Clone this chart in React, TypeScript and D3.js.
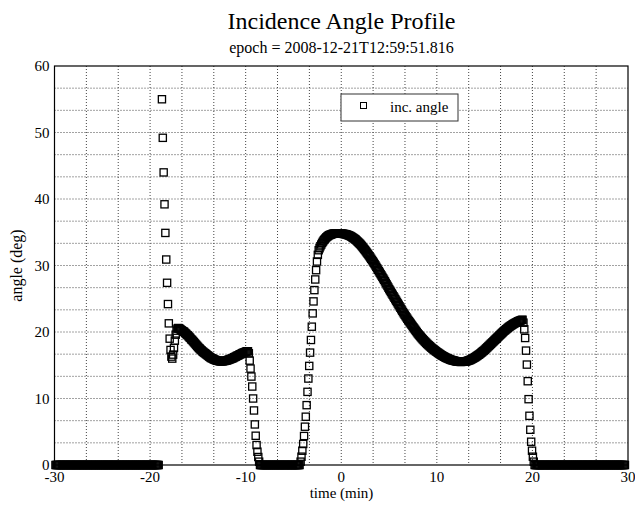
import React from "react";
import * as d3 from "d3";

const W = 635;
const H = 508;

const titleText = "Incidence Angle Profile";
const subtitleText = "epoch = 2008-12-21T12:59:51.816";
const xLabel = "time (min)";
const yLabel = "angle (deg)";
const legendLabel = "inc. angle";

const xTicks = [-30, -20, -10, 0, 10, 20, 30];
const yTicks = [0, 10, 20, 30, 40, 50, 60];

// sampling step of the profile (minutes)
const DT = 0.09;

// spans where the angle is 0 (no visibility)
const zeroSpans: [number, number][] = [
  [-29.9, -19.12],
  [-8.5, -4.34],
  [20.23, 29.7],
];

// first pass: steep entry, small dip, first hump
const entryAStart = -18.76;
const entryA = [
  55.0, 49.2, 44.0, 39.2, 34.9, 30.9, 27.4, 24.2, 21.3, 19.0,
  17.3, 16.3, 16.0, 16.6, 17.6, 18.7, 19.6, 20.2, 20.5, 20.6,
];

const bandAStart = -16.96;
const bandA = [
  20.55, 20.45, 20.35, 20.25, 20.15, 20.1, 20.0, 19.85, 19.75, 19.6,
  19.5, 19.35, 19.2, 19.1, 18.9, 18.8, 18.65, 18.5, 18.35, 18.2,
  18.05, 17.9, 17.75, 17.6, 17.5, 17.35, 17.25, 17.1, 17.0, 16.9,
  16.8, 16.7, 16.6, 16.5, 16.4, 16.3, 16.2, 16.1, 16.05, 16.0,
  15.9, 15.85, 15.8, 15.75, 15.7, 15.7, 15.65, 15.6, 15.6, 15.6,
  15.6, 15.6, 15.65, 15.65, 15.7, 15.7, 15.75, 15.8, 15.85, 15.9,
  15.95, 16.0, 16.05, 16.1, 16.2, 16.25, 16.3, 16.4, 16.45, 16.5,
  16.6, 16.65, 16.7, 16.8, 16.85, 16.9, 16.95, 17.0, 17.05, 17.1,
  17.1,
];

const exitAStart = -9.67;
const exitA = [16.8, 15.7, 14.5, 13.3, 11.8, 10.0, 8.2, 6.1, 4.4, 3.0, 2.0, 1.2, 0.5];

// second pass: rise to the main peak
const riseBStart = -4.25;
const riseB = [
  0.5, 1.25, 2.15, 3.16, 4.36, 5.76, 7.26, 9.0, 11.0, 13.0,
  14.9, 16.9, 18.8, 20.8, 22.8, 24.6, 26.3, 27.9, 29.3, 30.6,
  31.6, 32.3, 32.6, 32.9, 33.15, 33.4, 33.6, 33.8, 33.95, 34.1,
  34.25, 34.35, 34.45, 34.55, 34.6, 34.65, 34.7, 34.75, 34.78, 34.8,
  34.8, 34.82, 34.83, 34.83, 34.83, 34.82, 34.82, 34.8,
];

const mainBStart = 0.07;
const mainB = [
  34.79, 34.77, 34.75, 34.73, 34.71, 34.69, 34.63, 34.58, 34.53, 34.47,
  34.42, 34.34, 34.25, 34.16, 34.07, 33.98, 33.89, 33.76, 33.63, 33.51,
  33.38, 33.26, 33.11, 32.95, 32.79, 32.62, 32.46, 32.3, 32.12, 31.94,
  31.76, 31.58, 31.4, 31.21, 31.01, 30.82, 30.62, 30.42, 30.22, 30.01,
  29.79, 29.58, 29.36, 29.14, 28.93, 28.71, 28.5, 28.28, 28.06, 27.85,
  27.62, 27.38, 27.15, 26.92, 26.68, 26.45, 26.24, 26.02, 25.8, 25.59,
  25.37, 25.16, 24.94, 24.72, 24.51, 24.29, 24.08, 23.86, 23.64, 23.43,
  23.21, 22.99, 22.79, 22.59, 22.39, 22.2, 22.0, 21.8, 21.62, 21.44,
  21.26, 21.08, 20.9, 20.72, 20.54, 20.36, 20.18, 20.0, 19.82, 19.66,
  19.51, 19.36, 19.2, 19.05, 18.9, 18.77, 18.63, 18.5, 18.37, 18.23,
  18.11, 17.99, 17.88, 17.76, 17.64, 17.53, 17.43, 17.33, 17.23, 17.13,
  17.03, 16.94, 16.85, 16.76, 16.67, 16.58, 16.49, 16.42, 16.35, 16.28,
  16.2, 16.13, 16.07, 16.02, 15.96, 15.91, 15.85, 15.8, 15.76, 15.73,
  15.69, 15.66, 15.62, 15.59, 15.57, 15.56, 15.54, 15.52, 15.5, 15.51,
  15.52, 15.53, 15.53, 15.54, 15.56, 15.61, 15.65, 15.7, 15.74, 15.79,
  15.86, 15.93, 16.0, 16.07, 16.14, 16.22, 16.31, 16.4, 16.49, 16.58,
  16.67, 16.77, 16.88, 16.99, 17.1, 17.2, 17.31, 17.44, 17.57, 17.69,
  17.82, 17.94, 18.07, 18.2, 18.32, 18.45, 18.57, 18.7, 18.83, 18.95,
  19.08, 19.2, 19.33, 19.46, 19.58, 19.71, 19.83, 19.96, 20.09, 20.2,
  20.3, 20.41, 20.52, 20.63, 20.74, 20.83, 20.92, 21.0, 21.09, 21.18,
  21.26, 21.33, 21.4, 21.47, 21.54, 21.61, 21.66, 21.71, 21.76, 21.81,
  21.84,
];

const exitBStart = 19.06;
const exitB = [21.4, 20.4, 19.1, 17.2, 15.1, 12.6, 9.9, 7.4, 5.3, 3.5, 2.15, 1.25, 0.5];

const segments: { start: number; values: number[] }[] = [
  { start: entryAStart, values: entryA },
  { start: bandAStart, values: bandA },
  { start: exitAStart, values: exitA },
  { start: riseBStart, values: riseB },
  { start: mainBStart, values: mainB },
  { start: exitBStart, values: exitB },
];

function buildPoints(): [number, number][] {
  const pts: [number, number][] = [];
  zeroSpans.forEach(([a, b]) => {
    const n = Math.round((b - a) / DT);
    for (let i = 0; i <= n; i++) pts.push([a + i * DT, 0]);
  });
  segments.forEach((s) => {
    s.values.forEach((v, i) => pts.push([s.start + i * DT, v]));
  });
  return pts;
}

const FONT = "'Liberation Serif', 'Times New Roman', serif";

export default function App() {
  const left = 54.5;
  const right = 628;
  const top = 66;
  const bottom = 465;
  const x = d3.scaleLinear().domain([-30, 30]).range([left, right]);
  const y = d3.scaleLinear().domain([0, 60]).range([bottom, top]);

  const gridX = d3.range(1, 18).map((i) => -30 + (i * 10) / 3);
  const gridY = d3.range(1, 18).map((i) => (i * 10) / 3);

  const pts = buildPoints().filter(([t, v]) => v <= 60 && t >= -30 && t <= 30);
  const sq = 7.2;

  return (
    <svg
      width={W}
      height={H}
      style={{ position: "absolute", left: 0, top: 0, background: "#fff" }}
      fontFamily={FONT}
    >
      <rect x={0} y={0} width={W} height={H} fill="#fff" />
      <text x={341.5} y={29} textAnchor="middle" fontSize={24} fill="#000">
        {titleText}
      </text>
      <text x={341.5} y={53} textAnchor="middle" fontSize={16} fill="#000">
        {subtitleText}
      </text>

      {gridX.map((g) => (
        <line
          key={"gx" + g}
          x1={x(g)}
          x2={x(g)}
          y1={top}
          y2={bottom}
          stroke="#444"
          strokeWidth={1}
          strokeDasharray="1,2"
        />
      ))}
      {gridY.map((g) => (
        <line
          key={"gy" + g}
          x1={left}
          x2={right}
          y1={y(g)}
          y2={y(g)}
          stroke="#444"
          strokeWidth={1}
          strokeDasharray="1,2"
        />
      ))}

      <rect
        x={left}
        y={top}
        width={right - left}
        height={bottom - top}
        fill="none"
        stroke="#000"
        strokeWidth={1.2}
      />

      {yTicks.map((t) => (
        <text
          key={"yt" + t}
          x={left - 5}
          y={y(t)}
          dy="0.35em"
          textAnchor="end"
          fontSize={15}
          fill="#000"
        >
          {t}
        </text>
      ))}
      {xTicks.map((t) => (
        <text
          key={"xt" + t}
          x={x(t)}
          y={bottom + 17}
          textAnchor="middle"
          fontSize={15}
          fill="#000"
        >
          {t}
        </text>
      ))}

      <text x={341.5} y={498} textAnchor="middle" fontSize={15} fill="#000">
        {xLabel}
      </text>
      <text
        transform={`translate(22,${(top + bottom) / 2}) rotate(-90)`}
        textAnchor="middle"
        fontSize={16}
        fill="#000"
      >
        {yLabel}
      </text>

      <g>
        {pts.map(([t, v], i) => (
          <rect
            key={i}
            x={x(t) - sq / 2}
            y={y(v) - sq / 2}
            width={sq}
            height={sq}
            fill="none"
            stroke="#000"
            strokeWidth={1.3}
          />
        ))}
      </g>

      <g>
        <rect x={341} y={94} width={117} height={27} fill="#fff" stroke="#333" strokeWidth={1} />
        <rect x={360.5} y={102.5} width={6} height={6} fill="none" stroke="#000" strokeWidth={1} />
        <text x={390} y={111.5} fontSize={15} fill="#000">
          {legendLabel}
        </text>
      </g>
    </svg>
  );
}
